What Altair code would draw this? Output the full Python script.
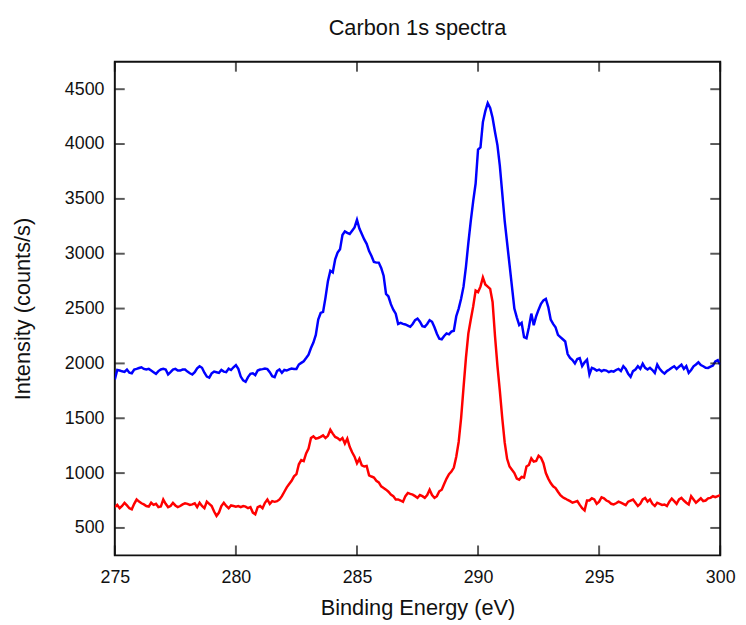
import altair as alt
import pandas as pd

# Binding energy grid: 275.0 .. 300.0 eV in 0.1 eV steps
energy_start = 275.0
energy_step = 0.1
n_points = 251
energy = [round(energy_start + energy_step * i, 1) for i in range(n_points)]

# Upper (blue) spectrum, counts/s
blue_counts = [
    1854, 1940, 1935, 1928, 1923, 1944, 1915, 1910, 1944, 1950,
    1958, 1965, 1950, 1944, 1950, 1935, 1920, 1905, 1930, 1945,
    1950, 1944, 1900, 1920, 1944, 1950, 1935, 1935, 1944, 1944,
    1925, 1910, 1899, 1920, 1955, 1974, 1960, 1915, 1880, 1870,
    1910, 1925, 1920, 1914, 1940, 1925, 1920, 1953, 1940, 1965,
    1985, 1950, 1880, 1845, 1833, 1875, 1905, 1910, 1893, 1935,
    1944, 1948, 1953, 1948, 1920, 1884, 1875, 1930, 1945, 1914,
    1940, 1935, 1945, 1953, 1950,
    1950, 1990, 2005, 2020, 2049,
    2080, 2140, 2190, 2260, 2400, 2460, 2469, 2600, 2750, 2844,
    2829, 2950, 3010, 3040, 3170, 3204, 3190, 3180, 3210, 3240,
    3309, 3230, 3180, 3130, 3090, 3024, 2980, 2925, 2919, 2919,
    2870, 2800, 2634, 2610, 2540, 2490, 2454, 2360, 2370, 2360,
    2355, 2345, 2334, 2360, 2395, 2409, 2380, 2340, 2334, 2360,
    2394, 2380, 2330, 2270, 2225, 2220, 2250, 2274, 2265, 2290,
    2298, 2430, 2500, 2590, 2700, 2880, 3100, 3300, 3480, 3640,
    3950, 3970, 4200, 4300, 4374, 4330, 4240, 4110, 3990, 3800,
    3550, 3300, 3100, 2900, 2700, 2500,
    2420, 2350, 2370, 2240,
    2230, 2330, 2454, 2349, 2430, 2490, 2544, 2575, 2589, 2514,
    2400, 2360, 2330, 2260, 2240, 2220, 2200, 2085, 2050, 2030,
    2000, 2040, 2049, 1975, 2010, 2034, 1899,
    1959, 1950, 1935,
    1944, 1929, 1940, 1935, 1920, 1930, 1925, 1940, 1950, 1930,
    1974, 1950, 1905, 1878, 1930, 1944, 1974, 1950, 1998, 1960,
    1944, 1960, 1940, 1914, 1989, 1950, 1925, 1908, 1930, 1944,
    1960, 1974, 1950, 1970, 1989, 1950, 1975, 1914, 1940, 1974,
    1990, 2010, 1985, 1974, 1960, 1959, 1970, 1980, 2019, 2030,
    1989,
]

# Lower (red) spectrum, counts/s
red_counts = [
    690, 710, 680, 700, 729, 705, 680, 670, 720, 759,
    740, 725, 715, 700, 695, 730, 710, 720, 690, 695,
    759, 720, 690, 700, 729, 705, 690, 700, 715, 725,
    720, 710, 715, 725, 690, 730, 700, 680, 740, 720,
    700, 650, 610, 640, 700, 729, 700, 680, 705, 700,
    694, 700, 690, 700, 694, 680, 690, 640, 624, 690,
    700, 680, 729, 759, 720, 744, 738, 744, 760, 790,
    830, 870, 900, 930, 970, 990, 1080, 1119, 1110, 1180,
    1224, 1320, 1335, 1314, 1320, 1330, 1344, 1320, 1340, 1395,
    1360, 1330, 1320, 1300, 1320, 1270, 1314, 1240, 1190, 1150,
    1089, 1130, 1070, 1060, 1065, 980, 969, 960, 930, 915,
    879, 865, 849, 830, 804, 790, 759, 760, 750, 738,
    790, 819, 810, 804, 790, 774, 800, 790, 775, 800,
    849, 800, 774, 790, 834, 849, 900, 950, 990, 1014,
    1050, 1150, 1284, 1500, 1780, 2050, 2274, 2400, 2520, 2664,
    2650, 2700, 2784, 2720, 2700,
    2680, 2560, 2250, 1980, 1750,
    1500, 1280, 1130, 1060, 1030, 1000, 950, 940, 965, 960,
    1060, 1074, 1134, 1104, 1110, 1158, 1140, 1090, 1000, 950,
    909, 880, 864, 830, 798, 780, 768, 755, 744, 730,
    738, 745, 710, 680, 660, 750,
    750, 770, 760, 720,
    740, 780, 770, 750, 740, 720, 714, 725, 740, 730,
    720, 708, 740, 750, 759, 730, 700, 720, 760, 774,
    740, 760, 720, 700, 730, 720, 710, 714, 700, 740,
    768, 745, 720, 760, 774, 750, 730, 714, 790, 760,
    730, 750, 770, 745, 750, 770, 774, 789, 780, 790,
    800,
]

series_names = ["upper", "lower"]
series_colors = ["#0000ff", "#ff0000"]
x_ticks = [275, 280, 285, 290, 295, 300]
y_ticks = [500, 1000, 1500, 2000, 2500, 3000, 3500, 4000, 4500]
x_domain = [275, 300]
y_domain = [250, 4750]

assert len(blue_counts) == n_points and len(red_counts) == n_points

df = pd.DataFrame({
    "energy": energy + energy,
    "intensity": blue_counts + red_counts,
    "series": [series_names[0]] * n_points + [series_names[1]] * n_points,
})
xt_df = pd.DataFrame({"v": x_ticks})
yt_df = pd.DataFrame({"v": y_ticks})

W, H = 612, 499
FONT = "Liberation Sans"
INK = "#111111"
TICK_LEN = 10

xscale = alt.Scale(domain=x_domain, nice=False, zero=False)
yscale = alt.Scale(domain=y_domain, nice=False, zero=False)

main_x = alt.Axis(values=x_ticks, ticks=False, domain=False, grid=False,
                  labelFlush=False, labelFont=FONT, labelFontSize=18, labelColor=INK,
                  labelPadding=13, title="Binding Energy (eV)", titleFont=FONT,
                  titleFontSize=22, titleFontWeight="normal", titleColor=INK, titlePadding=12)
main_y = alt.Axis(values=y_ticks, ticks=False, domain=False, grid=False, format="d",
                  labelFont=FONT, labelFontSize=18, labelColor=INK, labelPadding=11,
                  title="Intensity (counts/s)", titleFont=FONT, titleFontSize=22,
                  titleFontWeight="normal", titleColor=INK, titlePadding=30)

lines = alt.Chart(df).mark_line(strokeWidth=2.5, clip=True).encode(
    x=alt.X("energy:Q", scale=xscale, axis=main_x),
    y=alt.Y("intensity:Q", scale=yscale, axis=main_y),
    color=alt.Color("series:N", scale=alt.Scale(domain=series_names, range=series_colors), legend=None),
)

# inward tick marks on all four sides of the frame
tick_bottom = alt.Chart(xt_df).mark_tick(orient="vertical", size=TICK_LEN, thickness=2,
                                         color=INK, yOffset=-TICK_LEN / 2).encode(
    x=alt.X("v:Q", scale=xscale, axis=None),
    y=alt.YDatum(y_domain[0], type="quantitative", scale=yscale, axis=None),
)
tick_top = alt.Chart(xt_df).mark_tick(orient="vertical", size=TICK_LEN, thickness=2,
                                      color=INK, yOffset=TICK_LEN / 2).encode(
    x=alt.X("v:Q", scale=xscale, axis=None),
    y=alt.YDatum(y_domain[1], type="quantitative", scale=yscale, axis=None),
)
tick_left = alt.Chart(yt_df).mark_tick(orient="horizontal", size=TICK_LEN, thickness=2,
                                       color=INK, xOffset=TICK_LEN / 2).encode(
    y=alt.Y("v:Q", scale=yscale, axis=None),
    x=alt.XDatum(x_domain[0], type="quantitative", scale=xscale, axis=None),
)
tick_right = alt.Chart(yt_df).mark_tick(orient="horizontal", size=TICK_LEN, thickness=2,
                                        color=INK, xOffset=-TICK_LEN / 2).encode(
    y=alt.Y("v:Q", scale=yscale, axis=None),
    x=alt.XDatum(x_domain[1], type="quantitative", scale=xscale, axis=None),
)

chart = (
    alt.layer(lines, tick_bottom, tick_top, tick_left, tick_right)
    .resolve_axis(x="independent", y="independent")
    .properties(
        width=W,
        height=H,
        title=alt.TitleParams("Carbon 1s spectra", font=FONT, fontSize=22, fontWeight="normal",
                              color=INK, anchor="middle", offset=22),
        autosize=alt.AutoSizeParams(type="none"),
        padding={"left": 108, "top": 51, "right": 18, "bottom": 64},
        background="white",
    )
    .configure_view(stroke=INK, strokeWidth=2)
)

chart.save("out.html", embed_options={"renderer": "svg", "actions": False})
